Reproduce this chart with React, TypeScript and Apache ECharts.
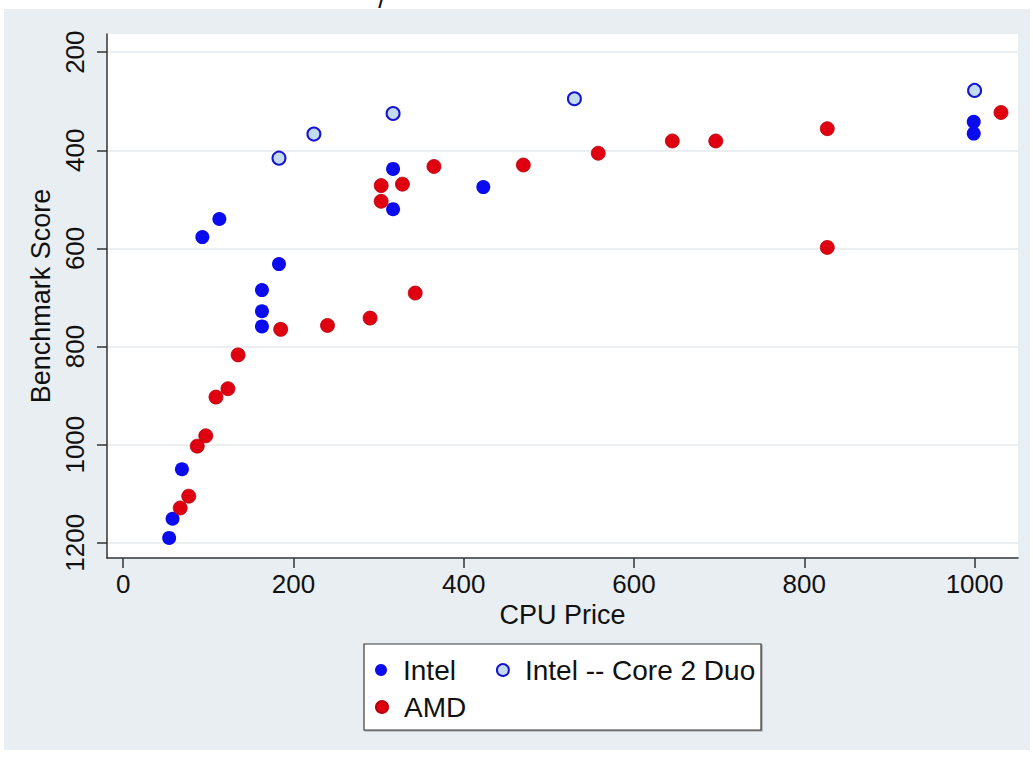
import React, { useEffect, useRef } from "react";
import * as echarts from "echarts";

const intelPrice = [54, 58, 69, 93, 113, 183, 163, 163, 163, 317, 317, 423, 999, 999];
const intelScore = [1190, 1151, 1050, 577, 540, 632, 685, 728, 759, 438, 520, 475, 342, 366];
const core2Price = [183, 224, 317, 530, 1000];
const core2Score = [416, 367, 325, 295, 278];
const amdPrice = [67, 77, 87, 97, 109, 123, 135, 185, 240, 290, 343, 303, 328, 303, 365, 470, 558, 645, 696, 827, 827, 1031];
const amdScore = [1129, 1105, 1003, 982, 903, 886, 817, 765, 757, 742, 691, 472, 469, 504, 433, 430, 406, 381, 381, 356, 598, 323];
const xTicks = [0, 200, 400, 600, 800, 1000];
const yTicks = [200, 400, 600, 800, 1000, 1200];

const FONT = "'Liberation Sans', Arial, Helvetica, sans-serif";
const zip = (a: number[], b: number[]) => a.map((v, i) => [v, b[i]]);
const plain = (v: number) => String(v);

export default function App() {
  const ref = useRef<HTMLDivElement>(null);
  useEffect(() => {
    if (!ref.current) return;
    const chart = echarts.init(ref.current, null, { renderer: "svg" });
    const textStyle = { fontFamily: FONT, fontSize: 28, color: "#111", lineHeight: 30 };
    chart.setOption({
      animation: false,
      backgroundColor: "#ffffff",
      textStyle: { fontFamily: FONT },
      graphic: [
        { type: "rect", z: -10, shape: { x: 4, y: 9, width: 1026, height: 741 }, style: { fill: "#e9eef2" } },
        {
          type: "text", z: 10, x: 382, y: 12,
          style: { text: "/", fontSize: 27, fontFamily: FONT, fill: "#111", align: "center", verticalAlign: "bottom" },
        },
        {
          type: "rect", z: 1, shape: { x: 364, y: 644, width: 397, height: 86 },
          style: { fill: "#ffffff", stroke: "#3a3a3a", lineWidth: 1.2, shadowColor: "rgba(0,0,0,0.35)", shadowOffsetX: 1, shadowOffsetY: 1, shadowBlur: 1 },
        },
      ],
      grid: {
        left: 107, top: 34, right: 15, bottom: 200,
        show: true, backgroundColor: "#ffffff", borderWidth: 0,
      },
      legend: [
        {
          data: ["Intel", "Intel -- Core 2 Duo"], left: 375, top: 655, orient: "horizontal",
          icon: "circle", itemWidth: 34, itemHeight: 12, itemGap: 40, padding: 0, textStyle,
        },
        {
          data: ["AMD"], left: 375, top: 692, orient: "horizontal",
          icon: "circle", itemWidth: 34, itemHeight: 12, itemGap: 40, padding: 0, textStyle,
        },
      ],
      xAxis: {
        type: "value", min: -19, max: 1051,
        name: "CPU Price", nameLocation: "middle", nameGap: 42,
        nameTextStyle: { fontSize: 27, color: "#111", fontFamily: FONT },
        axisLine: { show: true, onZero: false, lineStyle: { color: "#333", width: 1.5 } },
        axisTick: { show: true, length: 10, customValues: xTicks, lineStyle: { color: "#333", width: 1.5 } },
        axisLabel: { customValues: xTicks, formatter: plain, fontSize: 26, color: "#111", margin: 13, fontFamily: FONT },
        splitLine: { show: false },
      },
      yAxis: {
        type: "value", min: 163, max: 1231, inverse: true,
        name: "Benchmark Score", nameLocation: "middle", nameGap: 47,
        nameTextStyle: { fontSize: 27, color: "#111", fontFamily: FONT },
        axisLine: { show: true, onZero: false, lineStyle: { color: "#333", width: 1.5 } },
        axisTick: { show: true, length: 10, customValues: yTicks, lineStyle: { color: "#333", width: 1.5 } },
        axisLabel: { customValues: yTicks, formatter: plain, rotate: 90, fontSize: 26, color: "#111", margin: 19, fontFamily: FONT },
        splitLine: { show: true, lineStyle: { color: "#e6eaee", width: 1.5 } },
      },
      series: [
        {
          name: "Intel", type: "scatter", symbol: "circle", symbolSize: 14,
          itemStyle: { color: "#0b0bef", opacity: 1 },
          data: zip(intelPrice, intelScore),
        },
        {
          name: "Intel -- Core 2 Duo", type: "scatter", symbol: "circle", symbolSize: 13,
          itemStyle: { color: "#c3daef", borderColor: "#1414d2", borderWidth: 2, opacity: 1 },
          data: zip(core2Price, core2Score),
        },
        {
          name: "AMD", type: "scatter", symbol: "circle", symbolSize: 14,
          itemStyle: { color: "#df0010", borderColor: "#b8000c", borderWidth: 0.8, opacity: 1 },
          data: zip(amdPrice, amdScore),
        },
      ],
    });
    return () => chart.dispose();
  }, []);
  return <div ref={ref} style={{ position: "absolute", left: 0, top: 0, width: 1033, height: 758 }} />;
}
